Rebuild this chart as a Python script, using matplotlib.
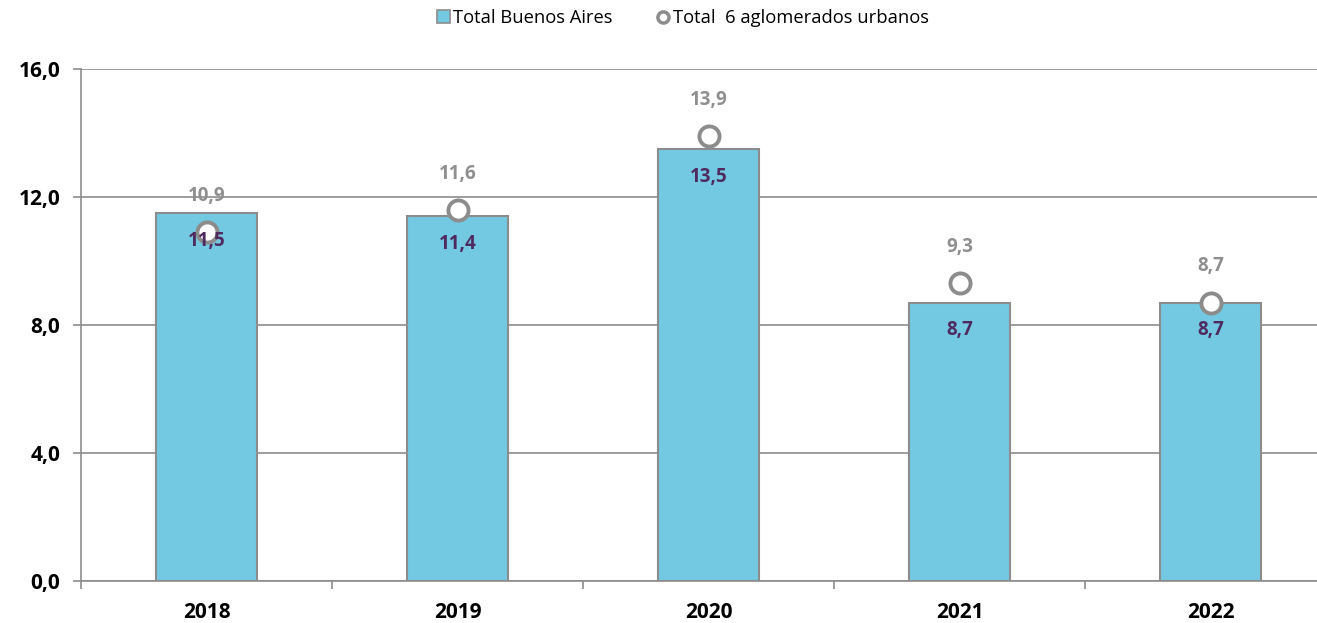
import matplotlib
matplotlib.use("Agg")
import matplotlib.pyplot as plt
from matplotlib.lines import Line2D
from matplotlib.patches import Patch
import numpy as np

years = ["2018", "2019", "2020", "2021", "2022"]
buenos_aires = [11.5, 11.4, 13.5, 8.7, 8.7]
aglomerados = [10.9, 11.6, 13.9, 9.3, 8.7]
y_ticks = [0.0, 4.0, 8.0, 12.0, 16.0]

BAR = "#73c8e2"
GRAY = "#8c8c8c"
PURPLE = "#4f2a5e"
LABEL_GRAY = "#8f8f8f"

plt.rcParams["font.family"] = ["Open Sans", "DejaVu Sans"]

fig = plt.figure(figsize=(13.17, 6.23), dpi=100)
ax = fig.add_axes([81 / 1317, 42 / 623, 1255 / 1317, 512 / 623])

x = np.arange(len(years))
ax.bar(x, buenos_aires, width=0.40, color=BAR, edgecolor=GRAY, linewidth=1.5, zorder=2)
ax.plot(x, aglomerados, linestyle="none", marker="o", markersize=14.5,
        markerfacecolor="white", markeredgecolor=GRAY, markeredgewidth=2.8, zorder=3)

for xi, v in zip(x, buenos_aires):
    ax.annotate(f"{v:.1f}".replace(".", ","), (xi, v), xytext=(0, -20),
                textcoords="offset points", ha="center", va="center",
                fontsize=13.5, fontweight="bold", color=PURPLE, zorder=4)
for xi, v in zip(x, aglomerados):
    ax.annotate(f"{v:.1f}".replace(".", ","), (xi, v), xytext=(0, 26),
                textcoords="offset points", ha="center", va="center",
                fontsize=13.5, fontweight="bold", color=LABEL_GRAY, zorder=4)

ax.set_xlim(-0.5, len(years) - 0.5)
ax.set_ylim(0, 16)
ax.set_yticks(y_ticks)
ax.set_yticklabels([f"{t:.1f}".replace(".", ",") for t in y_ticks],
                   fontsize=15, fontweight="bold")
ax.set_xticks(x)
ax.set_xticklabels(years, fontsize=15, fontweight="bold")
ax.set_xticks(np.arange(-0.5, len(years), 1.0), minor=True)
ax.tick_params(axis="x", which="major", length=0, pad=15)
ax.tick_params(axis="x", which="minor", length=6, color=GRAY, width=1.2)
ax.tick_params(axis="y", length=6, color=GRAY, width=1.2, pad=9)

ax.grid(axis="y", color=GRAY, linewidth=1.2, zorder=0)
ax.set_axisbelow(True)
for side in ["top", "right"]:
    ax.spines[side].set_visible(False)
for side in ["left", "bottom"]:
    ax.spines[side].set_color(GRAY)
    ax.spines[side].set_linewidth(1.2)

handles = [
    Patch(facecolor=BAR, edgecolor=GRAY, linewidth=1.2, label="Total Buenos Aires"),
    Line2D([], [], linestyle="none", marker="o", markersize=8, markerfacecolor="white",
           markeredgecolor=GRAY, markeredgewidth=2.5, label="Total  6 aglomerados urbanos"),
]
fig.legend(handles=handles, loc="center", bbox_to_anchor=(683 / 1317, 1 - 18 / 623), ncol=2,
           frameon=False, fontsize=13.2, handlelength=0.7, handleheight=0.7,
           handletextpad=0.2, columnspacing=2.4)

fig.savefig("out.png", dpi=100)
